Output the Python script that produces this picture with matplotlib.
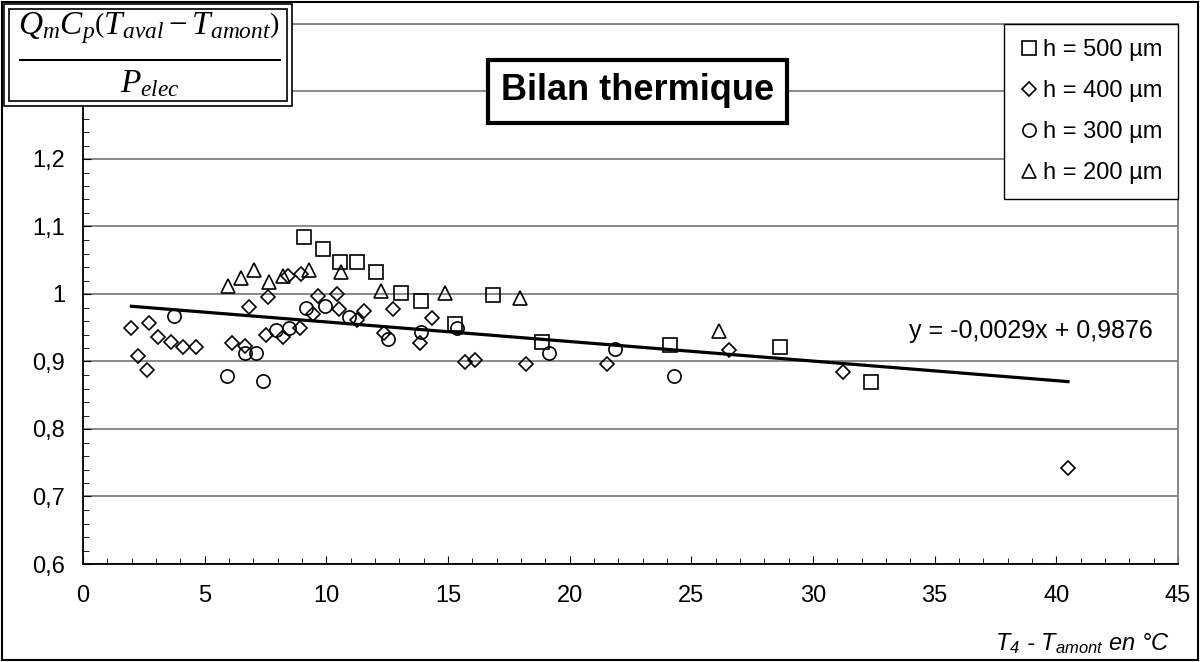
import matplotlib
matplotlib.use("Agg")
import matplotlib.pyplot as plt
from matplotlib.patches import Rectangle
from matplotlib.lines import Line2D
from matplotlib.ticker import MultipleLocator, FuncFormatter
import numpy as np

# ── Data ──────────────────────────────────────────────────────
x_500 = [9.09, 9.88, 10.56, 11.28, 12.05, 13.06, 13.90, 15.30, 16.85, 18.88, 24.14, 28.63, 32.37]
y_500 = [1.085, 1.066, 1.047, 1.047, 1.032, 1.001, 0.990, 0.955, 0.998, 0.929, 0.924, 0.921, 0.870]

x_400 = [1.99, 2.24, 2.63, 2.70, 3.10, 3.60, 4.09, 4.64, 6.12, 6.65, 6.82, 7.50, 7.59, 8.23,
         8.41, 8.94, 8.92, 9.47, 9.67, 10.45, 10.53, 11.25, 11.55, 12.37, 12.72, 13.86, 14.35,
         15.71, 16.12, 18.22, 21.55, 26.53, 31.22, 40.48]
y_400 = [0.949, 0.908, 0.888, 0.957, 0.936, 0.929, 0.922, 0.922, 0.928, 0.923, 0.981, 0.939, 0.995, 0.936,
         1.026, 1.030, 0.949, 0.971, 0.997, 1.000, 0.978, 0.962, 0.975, 0.942, 0.978, 0.927, 0.964,
         0.900, 0.902, 0.896, 0.896, 0.917, 0.884, 0.742]

x_300 = [3.73, 5.90, 6.67, 7.09, 7.38, 7.93, 8.45, 9.16, 9.95, 10.93, 12.53, 13.90, 15.37, 19.16, 21.88, 24.27]
y_300 = [0.967, 0.879, 0.912, 0.912, 0.871, 0.946, 0.949, 0.980, 0.982, 0.966, 0.934, 0.944, 0.950, 0.912, 0.918, 0.878]

x_200 = [5.97, 6.49, 7.04, 7.65, 8.22, 9.30, 10.59, 12.24, 14.86, 17.97, 26.12]
y_200 = [1.012, 1.023, 1.035, 1.018, 1.027, 1.035, 1.032, 1.005, 1.002, 0.994, 0.945]

labels = ["h = 500 µm", "h = 400 µm", "h = 300 µm", "h = 200 µm"]

# trend line shown on the chart
slope, intercept = -0.0029, 0.9876
trend_label = "y = -0,0029x + 0,9876"

W, H = 1200, 662

plt.rcParams["font.family"] = ["Liberation Sans", "DejaVu Sans"]
plt.rcParams["mathtext.fontset"] = "custom"
plt.rcParams["mathtext.rm"] = "Liberation Serif"
plt.rcParams["mathtext.it"] = "Liberation Serif:italic"
plt.rcParams["mathtext.sf"] = "Liberation Sans:italic"


def fx(px):
    return px / W


def fy(py):
    return 1 - py / H


def ylab(v, pos):
    # 1,3 and 1,4 sit under the formula box
    if v > 1.25:
        return ""
    return f"{v:.10g}".replace(".", ",")


fig = plt.figure(figsize=(12, 6.62), dpi=100)
ax = fig.add_axes([fx(83), fy(564), (1178 - 83) / W, (564 - 24) / H])

mk = dict(linestyle="none", mfc="none", mec="black", mew=1.2)
styles = [("s", 10), ("D", 7), ("o", 9.5), ("^", 10)]
for (xs, ys), (m, s) in zip([(x_500, y_500), (x_400, y_400), (x_300, y_300), (x_200, y_200)], styles):
    ax.plot(xs, ys, marker=m, ms=s, **mk, zorder=3)

all_x = np.concatenate([x_500, x_400, x_300, x_200])
xt = np.array([all_x.min(), all_x.max()])
ax.plot(xt, slope * xt + intercept, color="black", lw=2.3, zorder=4)
ax.text(38.96, 0.945, trend_label, fontsize=18, ha="center", va="center")

ax.set_xlim(0, 45)
ax.set_ylim(0.6, 1.4)
ax.xaxis.set_major_locator(MultipleLocator(5))
ax.xaxis.set_minor_locator(MultipleLocator(1))
ax.yaxis.set_major_locator(MultipleLocator(0.1))
ax.yaxis.set_minor_locator(MultipleLocator(0.02))
ax.yaxis.set_major_formatter(FuncFormatter(ylab))
ax.tick_params(which="both", direction="in", labelsize=17, color="black")
ax.tick_params(which="major", length=6)
ax.tick_params(which="minor", length=4)
ax.tick_params(axis="y", pad=13)
ax.tick_params(axis="x", pad=15)
ax.yaxis.grid(True, color="#808080", lw=1.3)
ax.set_axisbelow(True)
for s in ["left", "bottom"]:
    ax.spines[s].set_color("black")
    ax.spines[s].set_linewidth(1.3)
for s in ["top", "right"]:
    ax.spines[s].set_color("#808080")
    ax.spines[s].set_linewidth(1.3)

fig.text(fx(1170), fy(650), r"$\mathsf{T_4}$ - $\mathsf{T_{amont}}$ en °C",
         fontsize=17, style="italic", ha="right", va="baseline")

# legend
handles = [Line2D([], [], marker=m, ms=s, **mk) for m, s in styles]
leg = ax.legend(handles, labels, loc="upper right", bbox_to_anchor=(1.0, 1.0),
                borderaxespad=0, fancybox=False, framealpha=1, edgecolor="black",
                fontsize=17, handlelength=0.8, handletextpad=0.2, labelspacing=0.8,
                borderpad=0.65)
leg.get_frame().set_linewidth(1.0)

# figure border
fig.patches.append(Rectangle((fx(2), fy(660)), fx(1196), 658 / H, transform=fig.transFigure,
                             fill=False, ec="black", lw=1.5))

# formula box (top left)
fig.patches.append(Rectangle((fx(4), fy(106)), fx(288), 102 / H, transform=fig.transFigure,
                             fc="white", ec="black", lw=1.2, zorder=5))
fig.patches.append(Rectangle((fx(9), fy(101)), fx(278), 92 / H, transform=fig.transFigure,
                             fc="white", ec="black", lw=1.2, zorder=5))
fig.text(fx(149), fy(34), r"$Q_m C_p \left( T_{aval} - T_{amont} \right)$",
         fontsize=24, ha="center", va="baseline", zorder=6)
fig.add_artist(Line2D([fx(20), fx(280)], [fy(60), fy(60)], color="black", lw=1.5, zorder=6))
fig.text(fx(150), fy(92), r"$P_{elec}$", fontsize=24, ha="center", va="baseline", zorder=6)

# title box
fig.patches.append(Rectangle((fx(488), fy(123)), fx(299), 63 / H, transform=fig.transFigure,
                             fc="white", ec="black", lw=3, zorder=5))
fig.text(fx(638), fy(91), "Bilan thermique", fontsize=26, fontweight="bold",
         ha="center", va="center", zorder=6)

fig.savefig("out.png", dpi=100)
